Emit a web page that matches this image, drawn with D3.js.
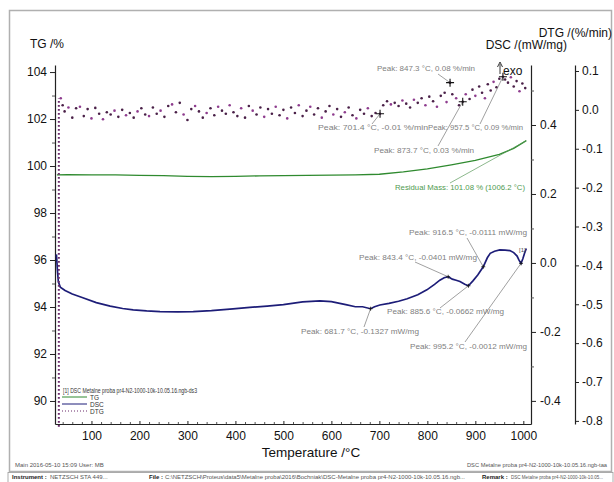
<!DOCTYPE html>
<html>
<head>
<meta charset="utf-8">
<script src="https://cdn.jsdelivr.net/npm/d3@7"></script>
<style>
  body { margin: 0; background: #fff; }
  svg { display: block; }
</style>
</head>
<body>
<svg id="chart" width="614" height="482"></svg>
<script>
// ---- data ----
var tempTicks = [100, 200, 300, 400, 500, 600, 700, 800, 900, 1000];
var tempMinor = [40, 60, 80, 120, 140, 160, 180, 220, 240, 260, 280, 320, 340, 360, 380, 420, 440, 460, 480, 520, 540, 560, 580, 620, 640, 660, 680, 720, 740, 760, 780, 820, 840, 860, 880, 920, 940, 960, 980];
var tgTicks = [90, 92, 94, 96, 98, 100, 102, 104];
var tgMinor = [91, 93, 95, 97, 99, 101, 103];
var dscTicks = [-0.4, -0.2, 0.0, 0.2, 0.4];
var dscMinor = [-0.3, -0.1, 0.1, 0.3, 0.5];
var dtgTicks = [-0.8, -0.7, -0.6, -0.5, -0.4, -0.3, -0.2, -0.1, 0.0, 0.1];

// TG /% (green)
var tgTemp  = [28, 50, 100, 150, 200, 250, 300, 350, 400, 450, 500, 550, 600, 650, 700, 750, 800, 850, 900, 950, 980, 1006.2];
var tgValue = [99.62, 99.63, 99.62, 99.62, 99.6, 99.59, 99.56, 99.55, 99.56, 99.58, 99.59, 99.6, 99.61, 99.62, 99.65, 99.75, 99.88, 100.05, 100.24, 100.5, 100.75, 101.08];

// DSC /(mW/mg) (blue)
var dscTemp  = [27, 29, 31, 35, 45, 60, 82, 110, 139, 165, 187, 215, 243, 280, 312, 350, 395, 430, 466, 500, 540, 576, 600, 630, 650, 665, 681.7, 690, 701, 720, 740, 758, 780, 799, 815, 826, 835, 843.4, 852, 860, 868, 878, 885.6, 895, 905, 916.5, 925, 931, 940, 951, 962, 972, 980, 987, 991, 995.2, 999, 1003, 1006.2];
var dscValue = [0.025, -0.02, -0.055, -0.07, -0.08, -0.09, -0.101, -0.115, -0.125, -0.132, -0.136, -0.139, -0.141, -0.142, -0.141, -0.138, -0.133, -0.129, -0.125, -0.121, -0.113, -0.11, -0.112, -0.121, -0.127, -0.127, -0.1327, -0.127, -0.122, -0.117, -0.111, -0.104, -0.092, -0.078, -0.062, -0.05, -0.043, -0.0401, -0.047, -0.05, -0.054, -0.062, -0.0662, -0.052, -0.035, -0.0111, 0.015, 0.028, 0.034, 0.038, 0.037, 0.036, 0.03, 0.02, 0.008, -0.0012, 0.012, 0.03, 0.042];

// DTG /(%/min) (dotted), [temperature, value]
var dtgSamples = [
  [36, 0.030], [40, 0.012], [44, -0.004], [52, 0.006], [60, -0.020], [68, 0.004], [76, 0.008], [84, -0.016],
  [92, 0.002], [100, -0.022], [108, 0.005], [116, -0.010], [124, -0.024], [132, -0.006], [140, -0.012], [148, -0.002],
  [156, -0.018], [164, 0.000], [172, -0.014], [180, -0.008], [188, -0.020], [196, -0.004], [204, 0.004], [212, -0.012],
  [220, -0.016], [228, 0.006], [236, -0.010], [244, -0.002], [252, -0.018], [260, 0.010], [268, 0.014], [276, -0.006],
  [284, 0.018], [292, -0.012], [300, -0.026], [308, 0.002], [316, 0.010], [324, -0.004], [332, -0.020], [340, -0.008],
  [348, 0.004], [356, -0.014], [364, 0.008], [372, -0.002], [380, -0.010], [388, 0.012], [396, -0.006], [404, -0.016],
  [412, 0.004], [420, -0.020], [428, 0.010], [436, -0.002], [444, -0.012], [452, 0.006], [460, -0.018], [468, 0.002],
  [476, -0.010], [484, 0.008], [492, -0.014], [500, 0.000], [508, -0.022], [516, 0.006], [524, -0.008], [532, 0.012],
  [540, -0.016], [548, -0.002], [556, 0.008], [564, -0.012], [572, 0.004], [580, -0.020], [588, -0.004], [596, 0.010],
  [604, -0.012], [612, 0.002], [620, -0.018], [628, -0.006], [636, 0.006], [644, -0.014], [652, -0.022], [660, 0.000],
  [668, -0.010], [676, 0.004], [684, -0.016], [692, -0.008], [701.4, -0.010], [708, 0.012], [716, 0.022], [724, 0.014],
  [732, 0.018], [740, 0.010], [748, 0.024], [756, 0.016], [764, 0.006], [772, 0.026], [780, 0.018], [788, 0.030],
  [796, 0.012], [804, 0.034], [812, 0.022], [820, 0.008], [828, 0.036], [836, 0.044], [840, 0.020], [847.3, 0.070],
  [852, 0.040], [860, 0.030], [866, 0.012], [873.7, 0.021], [880, 0.040], [888, 0.028], [894, 0.052], [900, 0.036],
  [908, 0.060], [914, 0.044], [920, 0.030], [926, 0.066], [932, 0.050], [938, 0.072], [944, 0.058], [950, 0.080],
  [957.5, 0.085], [962, 0.078], [968, 0.070], [974, 0.084], [980, 0.060], [986, 0.074], [992, 0.048], [998, 0.068],
  [1004, 0.056]
];
// steep start of the DTG signal (runs off the bottom of the scale)
var dtgStart = [[32, -0.815], [32, 0.03]];

// peak evaluations
var dtgPeakTemp  = [847.3, 701.4, 957.5, 873.7];
var dtgPeakValue = [0.070, -0.010, 0.085, 0.021];
var dtgPeakText  = ['Peak: 847.3 °C, 0.08 %/min', 'Peak: 701.4 °C, -0.01 %/min', 'Peak: 957.5 °C, 0.09 %/min', 'Peak: 873.7 °C, 0.03 %/min'];
var dscPeakTemp  = [916.5, 843.4, 885.6, 681.7, 995.2];
var dscPeakValue = [-0.0111, -0.0401, -0.0662, -0.1327, -0.0012];
var dscPeakText  = ['Peak: 916.5 °C, -0.0111 mW/mg', 'Peak: 843.4 °C, -0.0401 mW/mg', 'Peak: 885.6 °C, -0.0662 mW/mg', 'Peak: 681.7 °C, -0.1327 mW/mg', 'Peak: 995.2 °C, -0.0012 mW/mg'];
var residualTemp = 1006.2;
var residualMass = 101.08;
var residualText = 'Residual Mass: 101.08 % (1006.2 °C)';

// ---- label placement (layout only) ----
var dtgLabelPos = [
  { x: 377, y: 71,  w: 98,  lx: 438, ly: 74 },
  { x: 318, y: 130, w: 110, lx: 372, ly: 124 },
  { x: 428, y: 130, w: 95,  lx: 480, ly: 124 },
  { x: 374, y: 153, w: 100, lx: 438, ly: 146 }
];
var dscLabelPos = [
  { x: 409, y: 235, w: 118, lx: 467, ly: 238 },
  { x: 359, y: 260, w: 118, lx: 415, ly: 262 },
  { x: 387, y: 314, w: 117, lx: 440, ly: 308 },
  { x: 301, y: 334, w: 118, lx: 364, ly: 327 },
  { x: 410, y: 349, w: 117, lx: 465, ly: 342 }
];
var residualPos = { x: 395, y: 190, w: 130, lx: 450, ly: 183 };

var svg = d3.select('#chart');
var font = 'Liberation Sans, Arial, sans-serif';
var smallFont = 'Liberation Sans Narrow, Liberation Sans, Arial, sans-serif';

var x = d3.scaleLinear().domain([24, 1016]).range([55, 531]);
var yTG = d3.scaleLinear().domain([89.02, 104.3]).range([424, 65]);
var yDSC = d3.scaleLinear().domain([-0.467, 0.574]).range([424, 65]);
var yDTG = d3.scaleLinear().domain([-0.808, 0.1154]).range([424, 65]);

var fmt1 = function(d) { return d.toFixed(1); };

// frame and footer box
svg.append('rect').attr('x', 9.5).attr('y', 10.5).attr('width', 602).attr('height', 461)
  .attr('fill', 'none').attr('stroke', '#b0b0b0').attr('stroke-width', 1.5);
svg.append('rect').attr('x', 8).attr('y', 472.5).attr('width', 605).attr('height', 12)
  .attr('fill', '#fff').attr('stroke', '#999').attr('stroke-width', 0.8);

function styleAxis(g, size) {
  g.attr('font-family', null).attr('font-size', null);
  g.selectAll('text').attr('font-family', font).attr('font-size', size).attr('fill', '#111');
  g.selectAll('line, path').attr('stroke', '#222');
  g.select('.domain').attr('stroke-width', 1.2);
}
function minorAxis(axis, tx, ty) {
  svg.append('g').attr('transform', 'translate(' + tx + ',' + ty + ')')
    .call(axis.tickSizeOuter(0).tickFormat(''))
    .call(function(g) { g.select('.domain').remove(); g.selectAll('line').attr('stroke', '#555'); });
}

// x axis
var gx = svg.append('g').attr('transform', 'translate(0,424)')
  .call(d3.axisBottom(x).tickValues(tempTicks).tickSize(-3).tickSizeOuter(0).tickPadding(7).tickFormat(d3.format('d')));
styleAxis(gx, 12);
minorAxis(d3.axisBottom(x).tickValues(tempMinor).tickSize(-2), 0, 424);

// TG axis (left)
var gl = svg.append('g').attr('transform', 'translate(55,0)')
  .call(d3.axisLeft(yTG).tickValues(tgTicks).tickSize(5).tickSizeOuter(0).tickPadding(3).tickFormat(d3.format('d')));
styleAxis(gl, 12);
minorAxis(d3.axisLeft(yTG).tickValues(tgMinor).tickSize(3), 55, 0);

// DSC axis (right, inner)
var gr = svg.append('g').attr('transform', 'translate(531,0)')
  .call(d3.axisRight(yDSC).tickValues(dscTicks).tickSize(5).tickSizeOuter(0).tickPadding(4).tickFormat(fmt1));
styleAxis(gr, 12);
minorAxis(d3.axisRight(yDSC).tickValues(dscMinor).tickSize(3), 531, 0);

// DTG axis (right, outer)
var gd = svg.append('g').attr('transform', 'translate(575,0)')
  .call(d3.axisRight(yDTG).tickValues(dtgTicks).tickSize(4).tickSizeOuter(0).tickPadding(3).tickFormat(fmt1));
styleAxis(gd, 12);

// axis titles
function label(txt, xp, yp, size, anchor, color) {
  return svg.append('text').attr('x', xp).attr('y', yp).attr('font-family', font)
    .attr('font-size', size).attr('text-anchor', anchor || 'start').attr('fill', color || '#111').text(txt);
}
label('TG /%', 30, 48, 12);
label('DTG /(%/min)', 612, 37, 12, 'end');
label('DSC /(mW/mg)', 567, 49, 12, 'end');
label('Temperature /°C', 311, 457, 13.5, 'middle');

// curves
var tgLine = d3.line().x(function(d, i) { return x(tgTemp[i]); }).y(function(d) { return yTG(d); });
svg.append('path').attr('d', tgLine(tgValue)).attr('fill', 'none').attr('stroke', '#2f8a2f').attr('stroke-width', 1.3);

var dscLine = d3.line().x(function(d, i) { return x(dscTemp[i]); }).y(function(d) { return yDSC(d); });
svg.append('path').attr('d', dscLine(dscValue)).attr('fill', 'none').attr('stroke', '#1d1d78').attr('stroke-width', 1.7);

var dtgLine = d3.line().x(function(d) { return x(d[0]); }).y(function(d) { return yDTG(d[1]); });
svg.append('path').attr('d', dtgLine(dtgStart)).attr('fill', 'none').attr('stroke', '#6b2a6b')
  .attr('stroke-width', 2).attr('stroke-dasharray', '1.6,2.4');

svg.append('g').selectAll('circle').data(dtgSamples).enter().append('circle')
  .attr('cx', function(d) { return x(d[0]); })
  .attr('cy', function(d) { return yDTG(d[1]); })
  .attr('r', 1.3)
  .attr('fill', function(d, i) { return i % 3 === 0 ? '#8e3c8e' : '#4a2048'; });

// exo marker
svg.append('line').attr('x1', 500).attr('y1', 74).attr('x2', 500).attr('y2', 64).attr('stroke', '#222').attr('stroke-width', 0.9);
svg.append('path').attr('d', 'M497.5,67 L500,62 L502.5,67').attr('fill', 'none').attr('stroke', '#222').attr('stroke-width', 0.9);
label('exo', 503, 75, 12);

// annotations
function anno(txt, pos, px, py, color) {
  svg.append('line').attr('x1', pos.lx).attr('y1', pos.ly).attr('x2', px).attr('y2', py)
    .attr('stroke', color ? '#5a9a5a' : '#777').attr('stroke-width', 0.7);
  svg.append('text').attr('x', pos.x).attr('y', pos.y).attr('font-family', smallFont).attr('font-size', 8)
    .attr('fill', color || '#808080').attr('textLength', pos.w).attr('lengthAdjust', 'spacingAndGlyphs').text(txt);
}
function cross(px, py, s, w) {
  svg.append('path').attr('d', 'M' + (px - s) + ',' + py + 'H' + (px + s) + 'M' + px + ',' + (py - s) + 'V' + (py + s))
    .attr('stroke', '#111').attr('stroke-width', w);
}
dtgPeakTemp.forEach(function(t, i) {
  var px = x(t), py = yDTG(dtgPeakValue[i]);
  anno(dtgPeakText[i], dtgLabelPos[i], px, py);
  cross(px, py, 4, 1.1);
});
dscPeakTemp.forEach(function(t, i) {
  var px = x(t), py = yDSC(dscPeakValue[i]);
  anno(dscPeakText[i], dscLabelPos[i], px, py);
  cross(px, py, 2, 0.8);
});
anno(residualText, residualPos, x(residualTemp), yTG(residualMass), '#4f9a4f');
svg.append('text').attr('x', 519).attr('y', 252).attr('font-family', font).attr('font-size', 6).attr('fill', '#555').text('[1]');

// legend
svg.append('text').attr('x', 63).attr('y', 393).attr('font-family', smallFont).attr('font-size', 6.5).attr('fill', '#333')
  .attr('textLength', 134).attr('lengthAdjust', 'spacingAndGlyphs').text('[1] DSC Metalne proba pr4-N2-1000-10k-10.05.16.ngb-ds3');
var legendItems = [
  { name: 'TG', color: '#2f8a2f', dash: null, y: 397 },
  { name: 'DSC', color: '#1d1d78', dash: null, y: 404 },
  { name: 'DTG', color: '#6b2a6b', dash: '1,2', y: 411 }
];
legendItems.forEach(function(d) {
  svg.append('line').attr('x1', 62).attr('x2', 87).attr('y1', d.y).attr('y2', d.y)
    .attr('stroke', d.color).attr('stroke-width', 1).attr('stroke-dasharray', d.dash);
  svg.append('text').attr('x', 90).attr('y', d.y + 2.5).attr('font-family', smallFont).attr('font-size', 6.5)
    .attr('fill', '#333').text(d.name);
});

// footer texts
svg.append('text').attr('x', 15).attr('y', 467).attr('font-family', smallFont).attr('font-size', 6).attr('fill', '#555')
  .text('Main  2016-05-10 15:09     User: MB');
svg.append('text').attr('x', 607).attr('y', 467).attr('text-anchor', 'end').attr('font-family', smallFont).attr('font-size', 6).attr('fill', '#555')
  .attr('textLength', 140).attr('lengthAdjust', 'spacingAndGlyphs').text('DSC Metalne proba pr4-N2-1000-10k-10.05.16.ngb-taa');

var footY = 479;
function footText(txt, xp, bold, len, size) {
  var t = svg.append('text').attr('x', xp).attr('y', footY).attr('font-family', smallFont).attr('font-size', size || 6)
    .attr('fill', bold ? '#222' : '#555').attr('font-weight', bold ? 'bold' : null).text(txt);
  if (len) t.attr('textLength', len).attr('lengthAdjust', 'spacingAndGlyphs');
}
footText('Instrument :', 12, true);
footText('NETZSCH STA 449...', 50);
footText('File :', 149, true);
footText('C:\\NETZSCH\\Proteus\\data5\\Metalne proba\\2016\\Bochniak\\DSC-Metalne proba pr4-N2-1000-10k-10.05.16.ngb...', 165, false, 300);
footText('Remark :', 482, true);
footText('DSC Metalne proba pr4-N2-1000-10k-10.05...', 511, false, 92, 4.6);
</script>
</body>
</html>
